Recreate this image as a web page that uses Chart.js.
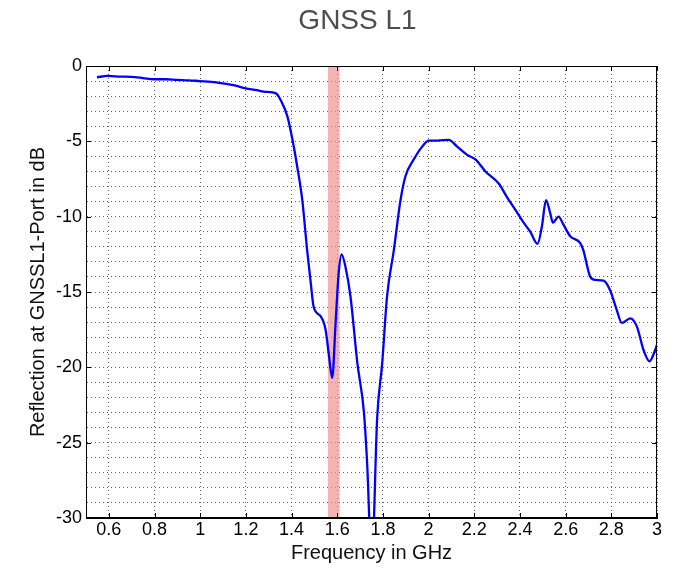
<!DOCTYPE html>
<html>
<head>
<meta charset="utf-8">
<script src="https://cdn.jsdelivr.net/npm/chart.js@4"></script>
<style>
  html, body { margin: 0; padding: 0; background: #fff; }
  canvas { display: block; }
</style>
</head>
<body>
<canvas id="chart" width="675" height="570"></canvas>
<script>
// Measured reflection of the GNSS L1 port
const freqGHz = [
  0.548, 0.595, 0.650, 0.697, 0.750, 0.797, 0.850, 0.898, 0.950, 0.998,
  1.050, 1.099, 1.150, 1.199, 1.248, 1.278, 1.317, 1.335, 1.352, 1.382,
  1.404, 1.425, 1.447, 1.468, 1.484, 1.497, 1.527, 1.549, 1.562, 1.578,
  1.593, 1.606, 1.619, 1.637, 1.658, 1.688, 1.717, 1.731, 1.751, 1.775,
  1.797, 1.818, 1.848, 1.877, 1.899, 1.935, 1.972, 2.001, 2.040, 2.088,
  2.125, 2.169, 2.205, 2.249, 2.307, 2.343, 2.380, 2.416, 2.445, 2.477,
  2.496, 2.514, 2.533, 2.544, 2.569, 2.591, 2.620, 2.664, 2.677, 2.708,
  2.730, 2.766, 2.795, 2.824, 2.846, 2.883, 2.912, 2.941, 2.967, 2.992,
  3.000
];
const reflectionDb = [
  -0.75, -0.66, -0.70, -0.72, -0.80, -0.88, -0.88, -0.92, -0.95, -1.00,
  -1.05, -1.15, -1.28, -1.48, -1.60, -1.70, -1.75, -1.85, -2.25, -3.36,
  -4.90, -6.70, -8.90, -12.2, -14.4, -16.0, -16.6, -17.5, -19.0, -20.7,
  -17.0, -13.8, -12.5, -13.4, -15.3, -19.7, -23.0, -26.4, -33.0, -23.3,
  -19.7, -15.3, -12.2, -8.90, -7.30, -6.20, -5.35, -4.95, -4.95, -4.90,
  -5.35, -5.90, -6.20, -7.00, -7.80, -8.70, -9.55, -10.4, -11.0, -11.8,
  -10.65, -8.90, -9.80, -10.4, -10.0, -10.55, -11.3, -11.75, -12.2, -14.0,
  -14.2, -14.25, -14.9, -16.2, -17.05, -16.75, -17.3, -18.85, -19.6, -18.85,
  -18.5
];
const xTicks = [0.6, 0.8, 1, 1.2, 1.4, 1.6, 1.8, 2, 2.2, 2.4, 2.6, 2.8, 3];
const yTicks = [-30, -25, -20, -15, -10, -5, 0];
const bandGHz = [1.559, 1.61];
const chartTitle = 'GNSS L1';

const fontFamily = '"Liberation Sans", Arial, sans-serif';

// pink band for the L1 frequency range
const bandPlugin = {
  id: 'band',
  beforeDatasetsDraw(chart) {
    const {ctx, chartArea, scales} = chart;
    const x0 = scales.x.getPixelForValue(bandGHz[0]);
    const x1 = scales.x.getPixelForValue(bandGHz[1]);
    ctx.save();
    ctx.fillStyle = 'rgba(240, 140, 140, 0.65)';
    ctx.fillRect(x0, chartArea.top, x1 - x0, chartArea.bottom - chartArea.top);
    ctx.restore();
  }
};

// box around the plot, inward tick marks and the title
const framePlugin = {
  id: 'frame',
  afterDraw(chart) {
    const {ctx, chartArea: a, scales} = chart;
    ctx.save();
    ctx.setLineDash([]);
    ctx.strokeStyle = '#000';
    ctx.lineWidth = 1;
    ctx.strokeRect(a.left + 0.5, a.top + 0.5, a.right - a.left - 1, a.bottom - a.top - 1);
    ctx.beginPath();
    xTicks.forEach(v => {
      const px = Math.round(scales.x.getPixelForValue(v)) + 0.5;
      ctx.moveTo(px, a.bottom); ctx.lineTo(px, a.bottom - 5);
      ctx.moveTo(px, a.top); ctx.lineTo(px, a.top + 5);
    });
    yTicks.forEach(v => {
      const py = Math.round(scales.y.getPixelForValue(v)) + 0.5;
      ctx.moveTo(a.left, py); ctx.lineTo(a.left + 5, py);
      ctx.moveTo(a.right, py); ctx.lineTo(a.right - 5, py);
    });
    ctx.stroke();

    ctx.fillStyle = '#4d4d4d';
    ctx.font = '28px ' + fontFamily;
    ctx.textAlign = 'center';
    ctx.textBaseline = 'middle';
    ctx.fillText(chartTitle, (a.left + a.right) / 2 - 14, 21);
    ctx.restore();
  }
};

const gridStyle = {
  color: 'rgba(0, 0, 0, 0.6)',
  lineWidth: 1,
  drawTicks: false
};

new Chart(document.getElementById('chart'), {
  type: 'line',
  data: {
    datasets: [{
      data: freqGHz.map((f, i) => ({x: f, y: reflectionDb[i]})),
      borderColor: '#0000ff',
      borderWidth: 2.3,
      pointRadius: 0,
      fill: false,
      cubicInterpolationMode: 'monotone'
    }]
  },
  options: {
    responsive: false,
    devicePixelRatio: 1,
    animation: false,
    layout: { padding: { left: 0, right: 18, top: 66, bottom: 0 } },
    plugins: {
      legend: { display: false },
      tooltip: { enabled: false },
      title: { display: false }
    },
    scales: {
      x: {
        type: 'linear',
        min: 0.5,
        max: 3,
        afterBuildTicks: s => { s.ticks = xTicks.map(v => ({value: v})); },
        afterFit: s => { s.height = 52; },
        grid: gridStyle,
        border: { display: true, color: '#000', width: 1, dash: [1, 3] },
        ticks: {
          color: '#000',
          padding: 1,
          autoSkip: false,
          maxRotation: 0,
          font: { family: fontFamily, size: 18 },
          callback: v => String(v)
        },
        title: {
          display: true,
          text: 'Frequency in GHz',
          color: '#111',
          font: { family: fontFamily, size: 20 },
          padding: { top: 0, bottom: 5 }
        }
      },
      y: {
        min: -30,
        max: 0,
        afterBuildTicks: s => {
          const t = [];
          for (let v = -30; v <= 0; v++) t.push({value: v});
          s.ticks = t;
        },
        afterFit: s => { s.width = 86; },
        grid: gridStyle,
        border: { display: true, color: '#000', width: 1, dash: [1, 3] },
        ticks: {
          color: '#000',
          padding: 4,
          autoSkip: false,
          font: { family: fontFamily, size: 18 },
          callback: v => (yTicks.includes(v) ? String(v) : '')
        },
        title: {
          display: true,
          text: 'Reflection at GNSSL1-Port in dB',
          color: '#111',
          font: { family: fontFamily, size: 20 },
          padding: { top: 26, bottom: 0 }
        }
      }
    }
  },
  plugins: [bandPlugin, framePlugin]
});
</script>
</body>
</html>
